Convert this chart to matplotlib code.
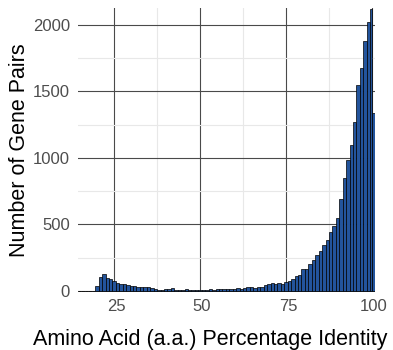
import numpy as np
import matplotlib
matplotlib.use("Agg")
import matplotlib.pyplot as plt
from matplotlib.transforms import ScaledTranslation

plt.rcParams['font.family'] = ['Liberation Sans', 'DejaVu Sans']

# ---- data ----
bin_edges = list(np.arange(14.5, 100.0, 1.0)) + [100.0, 100.9]
counts = [
    0, 0, 0, 0, 0,                                   # 15-19
    40, 103, 127, 95, 90, 75, 58, 52, 50, 45,        # 20-29
    40, 37, 32, 32, 27, 27, 25, 12, 8, 10,           # 30-39
    12, 15, 25, 10, 8, 10, 12, 10, 10, 8,            # 40-49
    10, 8, 10, 12, 10, 12, 14, 12, 15, 15,           # 50-59
    18, 20, 15, 22, 32, 28, 25, 27, 32, 45,          # 60-69
    55, 58, 52, 58, 50, 70, 77, 88, 112, 120,        # 70-79
    165, 165, 202, 232, 270, 300, 345, 382, 440, 487,  # 80-89
    550, 688, 853, 987, 1095, 1267, 1552, 1680, 1877, 2020,  # 90-99
    2120, 1337,                                      # last two bins
]
x_ticks = [25, 50, 75, 100]
x_minor = [37.5, 62.5, 87.5]
y_ticks = [0, 500, 1000, 1500, 2000]
y_minor = [250, 750, 1250, 1750]
x_title = "Amino Acid (a.a.) Percentage Identity"
y_title = "Number of Gene Pairs"

W, H = 393, 350
fig = plt.figure(figsize=(W / 100, H / 100), dpi=100)
ax = fig.add_axes([78 / W, 1 - 292 / H, (375 - 78) / W, (292 - 8) / H])

edges = np.array(bin_edges)
ax.bar(edges[:-1], counts, width=np.diff(edges), align='edge',
       color='#23549c', edgecolor='black', linewidth=0.5, zorder=3)

ax.set_xlim(14.5, 100.9)
ax.set_ylim(-8, 2128)

ax.set_xticks(x_ticks)
ax.set_xticks(x_minor, minor=True)
ax.set_yticks(y_ticks)
ax.set_yticks(y_minor, minor=True)

ax.set_axisbelow(True)
ax.grid(which='major', color='#4a4a4a', linewidth=0.8)
ax.grid(which='minor', color='#e8e8e8', linewidth=0.8)

for s in ax.spines.values():
    s.set_visible(False)

ax.tick_params(which='both', length=0)
ax.tick_params(axis='x', pad=5, labelsize=12, labelcolor='#4d4d4d')
ax.tick_params(axis='y', pad=5.8, labelsize=12, labelcolor='#4d4d4d')
for lab in ax.get_xticklabels():
    lab.set_transform(lab.get_transform() + ScaledTranslation(2 / 100, 0, fig.dpi_scale_trans))

fig.text(210 / W, 1 - 345.5 / H, x_title, ha='center', va='baseline',
         fontsize=15.5, color='black')
fig.text(25.5 / W, 1 - 150.5 / H, y_title, rotation=90, rotation_mode='anchor',
         ha='center', va='baseline', fontsize=15.5, color='black')

fig.savefig('out.png', dpi=100)
